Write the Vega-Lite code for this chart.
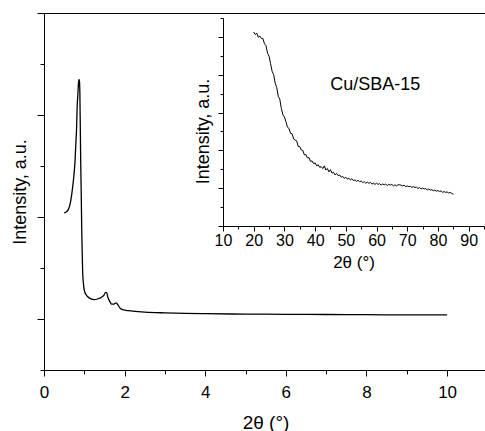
{
  "$schema": "https://vega.github.io/schema/vega-lite/v6.json",
  "width": 443,
  "height": 357,
  "autosize": "none",
  "padding": {"left": 44, "top": 13, "right": 0, "bottom": 61},
  "background": "white",
  "config": {
    "view": {"stroke": "black", "strokeWidth": 1},
    "font": "Liberation Sans",
    "axis": {
      "domainColor": "black", "tickColor": "black", "labelColor": "black", "titleColor": "black",
      "grid": false, "labelFont": "Liberation Sans", "titleFont": "Liberation Sans",
      "titleFontWeight": "normal", "domainWidth": 1, "tickWidth": 1
    }
  },
  "datasets": {
    "main": [
      {"x": 0.5, "y": 1.04}, {"x": 0.55, "y": 1.05}, {"x": 0.6, "y": 1.07}, {"x": 0.65, "y": 1.13},
      {"x": 0.68, "y": 1.2}, {"x": 0.71, "y": 1.29}, {"x": 0.74, "y": 1.4}, {"x": 0.77, "y": 1.55},
      {"x": 0.79, "y": 1.72}, {"x": 0.81, "y": 1.89}, {"x": 0.82, "y": 2.05}, {"x": 0.84, "y": 2.2},
      {"x": 0.855, "y": 2.31}, {"x": 0.87, "y": 2.35}, {"x": 0.88, "y": 2.33}, {"x": 0.89, "y": 2.21},
      {"x": 0.9, "y": 1.9}, {"x": 0.91, "y": 1.56}, {"x": 0.925, "y": 1.2}, {"x": 0.935, "y": 0.9},
      {"x": 0.95, "y": 0.62}, {"x": 0.96, "y": 0.45}, {"x": 0.98, "y": 0.34}, {"x": 1.0, "y": 0.28},
      {"x": 1.04, "y": 0.24}, {"x": 1.08, "y": 0.22}, {"x": 1.15, "y": 0.2}, {"x": 1.25, "y": 0.19},
      {"x": 1.35, "y": 0.2}, {"x": 1.41, "y": 0.21}, {"x": 1.49, "y": 0.235}, {"x": 1.53, "y": 0.262},
      {"x": 1.555, "y": 0.26}, {"x": 1.58, "y": 0.22}, {"x": 1.64, "y": 0.165}, {"x": 1.68, "y": 0.145},
      {"x": 1.72, "y": 0.145}, {"x": 1.78, "y": 0.155}, {"x": 1.8, "y": 0.155}, {"x": 1.83, "y": 0.14},
      {"x": 1.89, "y": 0.105}, {"x": 1.95, "y": 0.092}, {"x": 2.0, "y": 0.088}, {"x": 2.2, "y": 0.078},
      {"x": 2.5, "y": 0.068}, {"x": 3.0, "y": 0.06}, {"x": 3.5, "y": 0.055}, {"x": 4.0, "y": 0.052},
      {"x": 5.0, "y": 0.048}, {"x": 6.0, "y": 0.046}, {"x": 7.0, "y": 0.044}, {"x": 8.0, "y": 0.042},
      {"x": 9.0, "y": 0.04}, {"x": 10.0, "y": 0.04}
    ],
    "inset": [
      {"x": 20.0, "y": 5.13}, {"x": 20.5, "y": 5.06}, {"x": 21.0, "y": 5.10}, {"x": 21.5, "y": 4.99},
      {"x": 22.0, "y": 5.02}, {"x": 22.5, "y": 4.96}, {"x": 23.0, "y": 4.96}, {"x": 23.5, "y": 4.82},
      {"x": 24.0, "y": 4.77}, {"x": 24.5, "y": 4.57}, {"x": 25.0, "y": 4.49}, {"x": 25.5, "y": 4.29},
      {"x": 26.0, "y": 4.09}, {"x": 26.5, "y": 4.00}, {"x": 27.0, "y": 3.78}, {"x": 27.5, "y": 3.66},
      {"x": 28.0, "y": 3.43}, {"x": 28.5, "y": 3.35}, {"x": 29.0, "y": 3.11}, {"x": 29.5, "y": 2.94},
      {"x": 30.0, "y": 2.88}, {"x": 30.5, "y": 2.76}, {"x": 31.0, "y": 2.61}, {"x": 31.5, "y": 2.58},
      {"x": 32.0, "y": 2.45}, {"x": 32.5, "y": 2.44}, {"x": 33.0, "y": 2.30}, {"x": 33.5, "y": 2.27},
      {"x": 34.0, "y": 2.25}, {"x": 34.5, "y": 2.10}, {"x": 35.0, "y": 2.10}, {"x": 35.5, "y": 2.01},
      {"x": 36.0, "y": 2.00}, {"x": 36.5, "y": 1.88}, {"x": 37.0, "y": 1.89}, {"x": 37.5, "y": 1.80},
      {"x": 38.0, "y": 1.81}, {"x": 38.5, "y": 1.71}, {"x": 39.0, "y": 1.72}, {"x": 39.5, "y": 1.65},
      {"x": 40.0, "y": 1.67}, {"x": 40.5, "y": 1.59}, {"x": 41.0, "y": 1.62}, {"x": 41.5, "y": 1.55},
      {"x": 42.0, "y": 1.57}, {"x": 42.5, "y": 1.52}, {"x": 43.0, "y": 1.59}, {"x": 43.5, "y": 1.48},
      {"x": 44.0, "y": 1.52}, {"x": 44.5, "y": 1.43}, {"x": 45.0, "y": 1.49}, {"x": 45.5, "y": 1.40},
      {"x": 46.0, "y": 1.42}, {"x": 46.5, "y": 1.35}, {"x": 47.0, "y": 1.39}, {"x": 47.5, "y": 1.33},
      {"x": 48.0, "y": 1.35}, {"x": 48.5, "y": 1.29}, {"x": 49.0, "y": 1.31}, {"x": 49.5, "y": 1.26},
      {"x": 50.0, "y": 1.29}, {"x": 50.5, "y": 1.24}, {"x": 51.0, "y": 1.26}, {"x": 51.5, "y": 1.22},
      {"x": 52.0, "y": 1.25}, {"x": 52.5, "y": 1.20}, {"x": 53.0, "y": 1.22}, {"x": 53.5, "y": 1.18},
      {"x": 54.0, "y": 1.21}, {"x": 54.5, "y": 1.17}, {"x": 55.0, "y": 1.19}, {"x": 55.5, "y": 1.15},
      {"x": 56.0, "y": 1.17}, {"x": 56.5, "y": 1.13}, {"x": 57.0, "y": 1.16}, {"x": 57.5, "y": 1.13},
      {"x": 58.0, "y": 1.15}, {"x": 58.5, "y": 1.11}, {"x": 59.0, "y": 1.13}, {"x": 59.5, "y": 1.10},
      {"x": 60.0, "y": 1.13}, {"x": 60.5, "y": 1.10}, {"x": 61.0, "y": 1.12}, {"x": 61.5, "y": 1.08},
      {"x": 62.0, "y": 1.11}, {"x": 62.5, "y": 1.09}, {"x": 63.0, "y": 1.11}, {"x": 63.5, "y": 1.07},
      {"x": 64.0, "y": 1.10}, {"x": 64.5, "y": 1.08}, {"x": 65.0, "y": 1.10}, {"x": 65.5, "y": 1.06},
      {"x": 66.0, "y": 1.09}, {"x": 66.5, "y": 1.06}, {"x": 67.0, "y": 1.09}, {"x": 67.5, "y": 1.09},
      {"x": 68.0, "y": 1.08}, {"x": 68.5, "y": 1.06}, {"x": 69.0, "y": 1.08}, {"x": 69.5, "y": 1.04},
      {"x": 70.0, "y": 1.06}, {"x": 70.5, "y": 1.04}, {"x": 71.0, "y": 1.05}, {"x": 71.5, "y": 1.02},
      {"x": 72.0, "y": 1.04}, {"x": 72.5, "y": 1.02}, {"x": 73.0, "y": 1.03}, {"x": 73.5, "y": 0.99},
      {"x": 74.0, "y": 1.02}, {"x": 74.5, "y": 0.98}, {"x": 75.0, "y": 1.00}, {"x": 75.5, "y": 0.98},
      {"x": 76.0, "y": 0.99}, {"x": 76.5, "y": 0.95}, {"x": 77.0, "y": 0.98}, {"x": 77.5, "y": 0.95},
      {"x": 78.0, "y": 0.96}, {"x": 78.5, "y": 0.93}, {"x": 79.0, "y": 0.95}, {"x": 79.5, "y": 0.92},
      {"x": 80.0, "y": 0.94}, {"x": 80.5, "y": 0.91}, {"x": 81.0, "y": 0.93}, {"x": 81.5, "y": 0.89},
      {"x": 82.0, "y": 0.91}, {"x": 82.5, "y": 0.89}, {"x": 83.0, "y": 0.90}, {"x": 83.5, "y": 0.87},
      {"x": 84.0, "y": 0.89}, {"x": 84.5, "y": 0.86}, {"x": 85.0, "y": 0.84}
    ],
    "labels": [
      {"x": 44.9, "y": 3.73, "label": "Cu/SBA-15"}
    ]
  },
  "layer": [
    {
      "data": {"name": "main"},
      "mark": {"type": "line", "color": "black", "strokeWidth": 1.3, "interpolate": "monotone"},
      "encoding": {
        "x": {
          "field": "x", "type": "quantitative",
          "scale": {"domain": [0, 10.99], "nice": false, "zero": false},
          "axis": {
            "title": "2θ (°)",
            "values": [0, 1, 2, 3, 4, 5, 6, 7, 8, 9, 10],
            "labelExpr": "datum.value % 2 === 0 ? datum.label : ''",
            "tickSize": {"condition": {"test": "datum.value % 2 === 0", "value": 6}, "value": 4},
            "labelFontSize": 17, "labelPadding": 8, "labelFlush": false,
            "titleFontSize": 19, "titleY": 52, "titleBaseline": "middle"
          }
        },
        "y": {
          "field": "y", "type": "quantitative",
          "scale": {"domain": [-0.5, 3], "nice": false, "zero": false},
          "axis": {
            "title": "Intensity, a.u.",
            "labels": false,
            "values": [-0.5, 0, 0.5, 1, 1.5, 2, 2.5, 3],
            "tickSize": {"condition": {"test": "datum.value % 1 === 0", "value": 7}, "value": 4},
            "titleFontSize": 18, "titleX": -24, "titleBaseline": "middle"
          }
        }
      }
    },
    {
      "data": {"name": "inset"},
      "mark": {"type": "line", "color": "black", "strokeWidth": 1},
      "encoding": {
        "x": {
          "field": "x", "type": "quantitative",
          "scale": {"domain": [10, 95], "range": [179, 440], "nice": false, "zero": false},
          "axis": {
            "orient": "bottom", "offset": -144,
            "title": "2θ (°)",
            "values": [10, 15, 20, 25, 30, 35, 40, 45, 50, 55, 60, 65, 70, 75, 80, 85, 90, 95],
            "labelExpr": "datum.value % 10 === 0 ? datum.label : ''",
            "tickSize": {"condition": {"test": "datum.value % 10 === 0", "value": 5}, "value": 3},
            "labelFontSize": 16, "labelPadding": 1, "labelFlush": false,
            "titleFontSize": 17, "titleY": 36, "titleBaseline": "middle"
          }
        },
        "y": {
          "field": "y", "type": "quantitative",
          "scale": {"domain": [0, 5.5], "range": [213, 5], "nice": false, "zero": false},
          "axis": {
            "orient": "left", "offset": -179,
            "title": "Intensity, a.u.",
            "labels": false,
            "values": [0, 0.5, 1, 1.5, 2, 2.5, 3, 3.5, 4, 4.5, 5, 5.5],
            "tickSize": {"condition": {"test": "datum.value % 1 === 0", "value": 5}, "value": 3},
            "titleFontSize": 18, "titleX": -20, "titleY": 118, "titleBaseline": "middle"
          }
        }
      }
    },
    {
      "data": {"name": "labels"},
      "mark": {"type": "text", "align": "left", "baseline": "middle", "fontSize": 18, "font": "Liberation Sans", "color": "black"},
      "encoding": {
        "x": {"field": "x", "type": "quantitative", "scale": {"domain": [10, 95], "range": [179, 440], "nice": false, "zero": false}, "axis": null},
        "y": {"field": "y", "type": "quantitative", "scale": {"domain": [0, 5.5], "range": [213, 5], "nice": false, "zero": false}, "axis": null},
        "text": {"field": "label"}
      }
    }
  ],
  "resolve": {
    "scale": {"x": "independent", "y": "independent"},
    "axis": {"x": "independent", "y": "independent"}
  }
}
